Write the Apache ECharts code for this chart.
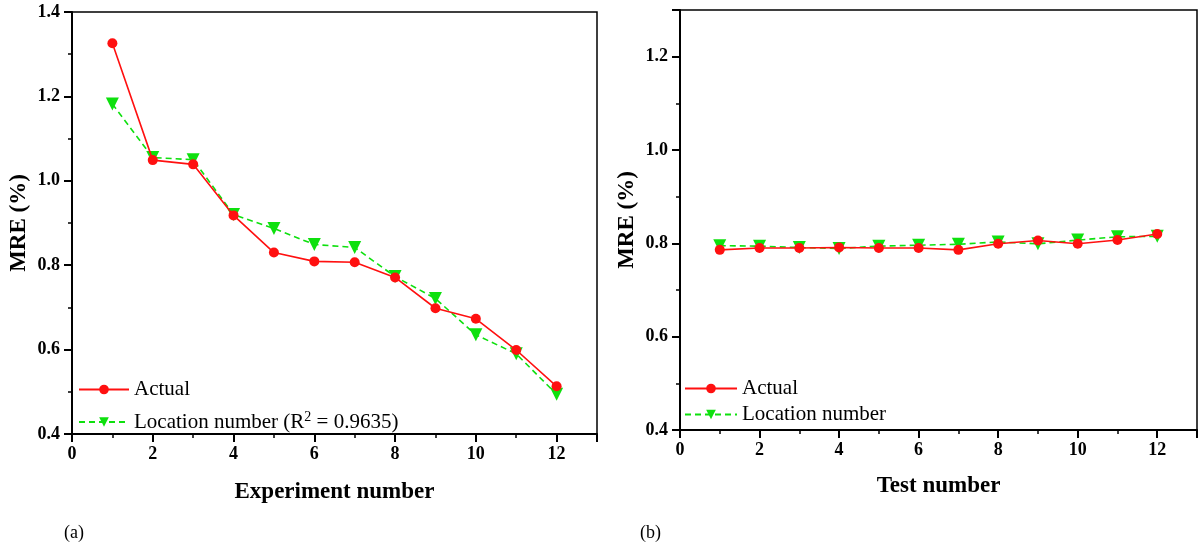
<!DOCTYPE html>
<html>
<head>
<meta charset="utf-8">
<script src="https://cdn.jsdelivr.net/npm/echarts@6/dist/echarts.min.js"></script>
<style>
html,body{margin:0;padding:0;background:#fff;}
#chart{width:1200px;height:549px;}
</style>
</head>
<body>
<div id="chart"></div>
<script>
// ---- data ----
const experimentNumbers = [1,2,3,4,5,6,7,8,9,10,11,12];
const actualA   = [1.326,1.049,1.039,0.918,0.830,0.809,0.807,0.771,0.698,0.673,0.599,0.513];
const locationA = [1.182,1.055,1.050,0.920,0.887,0.849,0.842,0.773,0.721,0.635,0.590,0.494];

const testNumbers = [1,2,3,4,5,6,7,8,9,10,11,12];
const actualB   = [0.786,0.790,0.790,0.791,0.790,0.790,0.786,0.799,0.806,0.799,0.807,0.820];
const locationB = [0.795,0.794,0.791,0.789,0.794,0.796,0.798,0.803,0.799,0.807,0.814,0.815];

const seriesNames = ['Actual', 'Location number'];
const legendA2 = 'Location number (R\u00B2 = 0.9635)';

const FONT = '"Liberation Serif","Times New Roman",serif';
const RED = '#ff1010';
const GREEN = '#0ee00e';

function pairs(xs, ys){ return xs.map((x,i)=>[x, ys[i]]); }

function xAxisCfg(gridIndex, name, nameGap){
  return {
    type:'value', gridIndex, min:0, max:13, interval:2,
    name, nameLocation:'middle', nameGap,
    nameTextStyle:{fontFamily:FONT, fontWeight:'bold', fontSize:23, color:'#000'},
    axisLine:{onZero:false, lineStyle:{color:'#000', width:2}},
    axisTick:{show:true, inside:false, length:8, lineStyle:{color:'#000', width:2}},
    minorTick:{show:true, splitNumber:2, length:4, lineStyle:{color:'#000', width:1.5}},
    splitLine:{show:false},
    axisLabel:{fontFamily:FONT, fontWeight:'bold', fontSize:18, color:'#000', margin:11,
      formatter:v => (v % 2 === 0 ? String(v) : '')}
  };
}
function yAxisCfg(gridIndex, max){
  return {
    type:'value', gridIndex, min:0.4, max, interval:0.2,
    name:'MRE (%)', nameLocation:'middle', nameGap:41,
    nameTextStyle:{fontFamily:FONT, fontWeight:'bold', fontSize:23, color:'#000'},
    axisLine:{onZero:false, lineStyle:{color:'#000', width:2}},
    axisTick:{show:true, inside:false, length:8, lineStyle:{color:'#000', width:2}},
    minorTick:{show:true, splitNumber:2, length:4, lineStyle:{color:'#000', width:1.5}},
    splitLine:{show:false},
    axisLabel:{fontFamily:FONT, fontWeight:'bold', fontSize:18, color:'#000', margin:12,
      formatter:v => { const r = Math.round(v*10)/10; return Math.abs(r - v) < 1e-6 && Math.round(r*10) % 2 === 0 ? r.toFixed(1) : ''; }}
  };
}
function lineSeries(name, xi, yi, data, isActual){
  return {
    name, type:'line', xAxisIndex:xi, yAxisIndex:yi, data,
    symbol: isActual ? 'circle' : 'triangle',
    symbolRotate: isActual ? 0 : 180,
    symbolSize: isActual ? 10 : 13,
    itemStyle:{color: isActual ? RED : GREEN},
    lineStyle:{color: isActual ? RED : GREEN, width:1.6, type: isActual ? 'solid' : [6,4]},
    z: isActual ? 3 : 2,
    animation:false
  };
}

const chart = echarts.init(document.getElementById('chart'), null, {renderer:'canvas'});
chart.setOption({
  backgroundColor:'#fff',
  animation:false,
  grid:[
    {left:72, top:12, width:525, height:422, show:true, borderColor:'#000', borderWidth:1.5, backgroundColor:'transparent'},
    {left:680, top:10, width:521, height:420, show:true, borderColor:'#000', borderWidth:1.5, backgroundColor:'transparent'}
  ],
  xAxis:[ xAxisCfg(0,'Experiment number',47), xAxisCfg(1,'Test number',45) ],
  yAxis:[ yAxisCfg(0,1.4), yAxisCfg(1,1.3) ],
  legend:[
    {
      left:73, top:374, orient:'vertical', itemGap:10, itemWidth:50, itemHeight:12,
      data:[seriesNames[0], legendA2],
      formatter: n => n === legendA2 ? '{t|Location number (R}{s|2}{t| = 0.9635)}' : '{t|' + n + '}',
      textStyle:{fontFamily:FONT, fontSize:21, color:'#000',
        rich:{ t:{fontFamily:FONT, fontSize:21, color:'#000'},
               s:{fontFamily:FONT, fontSize:14, color:'#000', verticalAlign:'top', padding:[0,0,10,0]} }}
    },
    {
      left:679, top:373, orient:'vertical', itemGap:5, itemWidth:52, itemHeight:12,
      data:seriesNames.map(s => s + ' '),
      formatter: n => n.trim(),
      textStyle:{fontFamily:FONT, fontSize:21, color:'#000'}
    }
  ],
  series:[
    lineSeries(seriesNames[0], 0, 0, pairs(experimentNumbers, actualA), true),
    lineSeries(legendA2, 0, 0, pairs(experimentNumbers, locationA), false),
    lineSeries(seriesNames[0] + ' ', 1, 1, pairs(testNumbers, actualB), true),
    lineSeries(seriesNames[1] + ' ', 1, 1, pairs(testNumbers, locationB), false)
  ],
  graphic:[
    {type:'text', left:64, top:524, style:{text:'(a)', font:'18px ' + FONT, fill:'#000'}},
    {type:'text', left:640, top:524, style:{text:'(b)', font:'18px ' + FONT, fill:'#000'}}
  ]
});
</script>
</body>
</html>
